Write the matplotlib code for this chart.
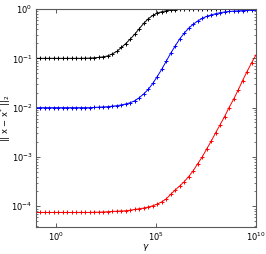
import numpy as np
import matplotlib
matplotlib.use("Agg")
import matplotlib.pyplot as plt
from matplotlib.ticker import LogLocator, NullLocator, NullFormatter

# ── Data (log10 values) ───────────────────────────────────────────────────────
log_gamma = [-1.00, -0.78, -0.55, -0.33, -0.10, 0.12, 0.35, 0.57, 0.80, 1.02,
             1.24, 1.47, 1.69, 1.92, 2.14, 2.37, 2.59, 2.82, 3.04, 3.27,
             3.49, 3.71, 3.94, 4.16, 4.39, 4.61, 4.84, 5.06, 5.29, 5.51,
             5.73, 5.96, 6.18, 6.41, 6.63, 6.86, 7.08, 7.31, 7.53, 7.76,
             7.98, 8.20, 8.43, 8.65, 8.88, 9.10, 9.33, 9.55, 9.78, 10.00]

log_err_black = [-1.00, -1.00, -1.00, -1.00, -1.00, -1.00, -1.00, -1.00, -1.00, -1.00,
                 -1.00, -0.998, -0.995, -0.99, -0.98, -0.97, -0.95, -0.91, -0.86, -0.78,
                 -0.70, -0.61, -0.51, -0.40, -0.29, -0.20, -0.13, -0.085, -0.055, -0.035,
                 -0.022, -0.014, -0.009, -0.006, -0.004, -0.003, -0.002, -0.002, -0.001, -0.001,
                 -0.001, -0.001, -0.001, -0.001, -0.001, -0.001, -0.001, -0.001, -0.001, -0.001]

log_err_blue = [-2.00, -2.00, -2.00, -2.00, -2.00, -2.00, -2.00, -2.00, -2.00, -2.00,
                -2.00, -2.00, -2.00, -1.995, -1.99, -1.985, -1.98, -1.97, -1.96, -1.945,
                -1.925, -1.90, -1.86, -1.80, -1.72, -1.63, -1.51, -1.37, -1.22, -1.06,
                -0.90, -0.75, -0.61, -0.49, -0.39, -0.31, -0.245, -0.19, -0.15, -0.12,
                -0.095, -0.075, -0.06, -0.05, -0.043, -0.037, -0.032, -0.028, -0.025, -0.022]

log_err_red = [-4.125, -4.125, -4.125, -4.125, -4.125, -4.125, -4.125, -4.125, -4.125, -4.125,
               -4.125, -4.125, -4.125, -4.12, -4.12, -4.115, -4.11, -4.105, -4.10, -4.095,
               -4.09, -4.08, -4.065, -4.05, -4.035, -4.015, -3.99, -3.955, -3.91, -3.85,
               -3.76, -3.67, -3.59, -3.50, -3.40, -3.28, -3.14, -3.00, -2.84, -2.68,
               -2.51, -2.35, -2.18, -2.00, -1.83, -1.65, -1.45, -1.27, -1.09, -0.93]

gamma = 10.0 ** np.array(log_gamma)
series = [
    (log_err_black, "black"),
    (log_err_blue, "blue"),
    (log_err_red, "red"),
]

# ── Figure ────────────────────────────────────────────────────────────────────
fig = plt.figure(figsize=(2.66, 2.54), dpi=100)
ax = fig.add_axes([36 / 266, 27 / 254, 220 / 266, 218 / 254])

for vals, color in series:
    ax.plot(gamma, 10.0 ** np.array(vals), color=color, lw=0.7,
            marker="+", ms=3, mew=0.7)

ax.set_xscale("log")
ax.set_yscale("log")
ax.set_xlim(1e-1, 1e10)
ax.set_ylim(10 ** -4.42, 1e0)

ax.set_xticks([1e0, 1e5, 1e10])
ax.xaxis.set_minor_locator(NullLocator())
ax.yaxis.set_major_locator(LogLocator(base=10, numticks=20))
ax.yaxis.set_minor_locator(LogLocator(base=10, subs=np.arange(2, 10), numticks=20))
ax.yaxis.set_minor_formatter(NullFormatter())

ax.tick_params(which="both", direction="in", top=True, right=True,
               labelsize=6, colors="0.25", labelcolor="black", pad=2.5)
ax.tick_params(which="major", length=3, width=0.6)
ax.tick_params(which="minor", length=1.5, width=0.5)
for sp in ax.spines.values():
    sp.set_color("0.35")
    sp.set_linewidth(0.8)

ax.set_xlabel(r"$\gamma$", fontsize=6.5)
ax.set_ylabel("|| x \u2212 x$^{*}$ ||$_{2}$", fontsize=6)
ax.xaxis.set_label_coords(0.5, -0.07)
ax.yaxis.set_label_coords(-0.105, 0.5)

fig.savefig("out.png", dpi=100)
